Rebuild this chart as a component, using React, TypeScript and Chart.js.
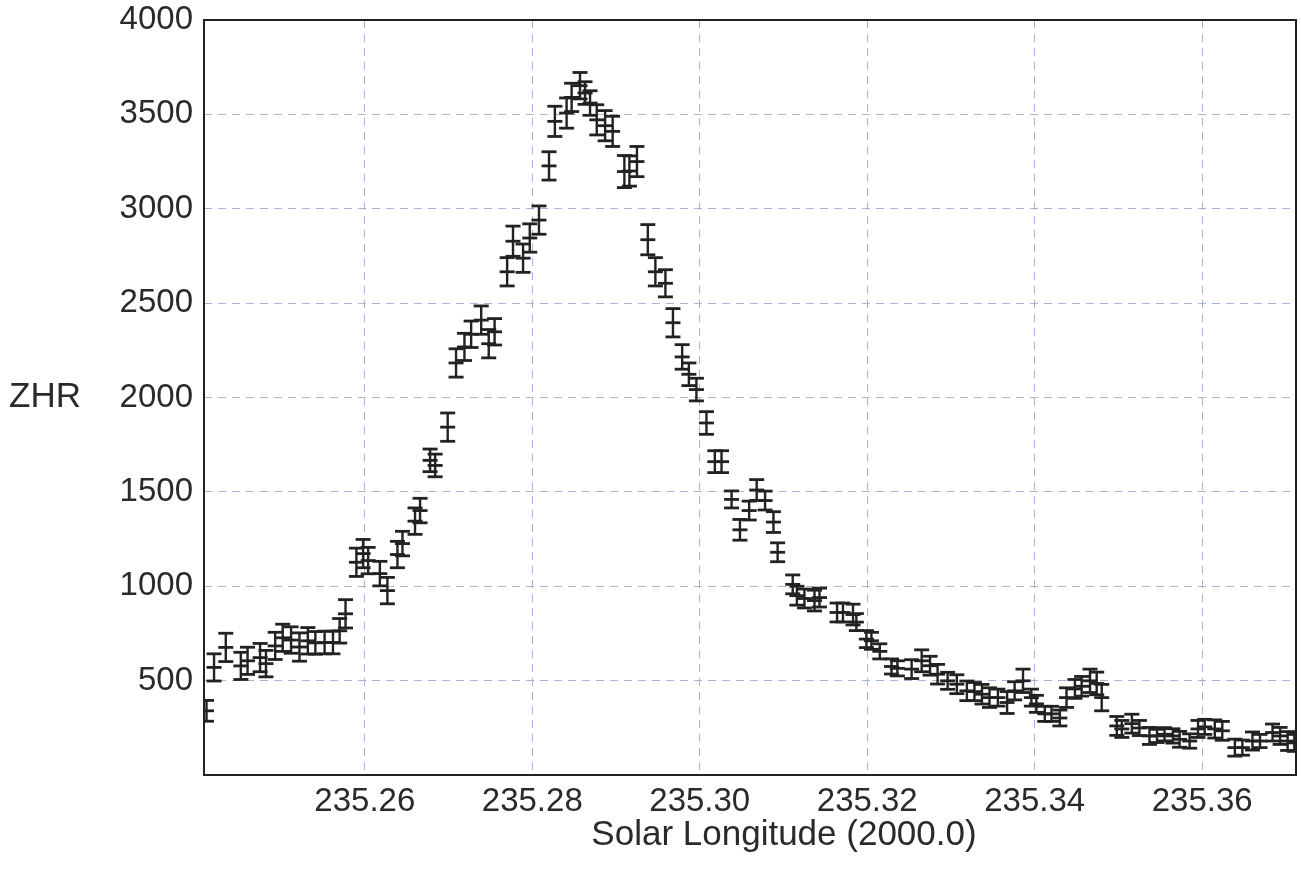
import React, { useEffect, useRef } from 'react';
import { Chart, registerables } from 'chart.js';

Chart.register(...registerables);

// Solar longitude (2000.0) of each ZHR bin
const SOLAR_LONGITUDE = [
  235.2411, 235.2420, 235.2434, 235.2452, 235.2460, 235.2475, 235.2482, 235.2493, 235.2502, 235.2512,
  235.2522, 235.2532, 235.2541, 235.2552, 235.2562, 235.2570, 235.2577, 235.2590, 235.2598, 235.2604,
  235.2618, 235.2627, 235.2639, 235.2645, 235.2660, 235.2666, 235.2678, 235.2684, 235.2699, 235.2709,
  235.2719, 235.2727, 235.2739, 235.2748, 235.2755, 235.2770, 235.2777, 235.2789, 235.2797, 235.2808,
  235.2820, 235.2827, 235.2841, 235.2847, 235.2857, 235.2863, 235.2869, 235.2877, 235.2887, 235.2896,
  235.2910, 235.2916, 235.2925, 235.2938, 235.2947, 235.2959, 235.2968, 235.2979, 235.2987, 235.2996,
  235.3008, 235.3018, 235.3026, 235.3038, 235.3048, 235.3059, 235.3068, 235.3078, 235.3088, 235.3093,
  235.3111, 235.3116, 235.3125, 235.3137, 235.3143, 235.3164, 235.3171, 235.3183, 235.3187, 235.3199,
  235.3205, 235.3215, 235.3229, 235.3236, 235.3253, 235.3265, 235.3275, 235.3284, 235.3296, 235.3307,
  235.3319, 235.3328, 235.3337, 235.3346, 235.3356, 235.3367, 235.3376, 235.3386, 235.3396, 235.3402,
  235.3412, 235.3420, 235.3430, 235.3438, 235.3448, 235.3456, 235.3466, 235.3474, 235.3480, 235.3498,
  235.3504, 235.3516, 235.3525, 235.3537, 235.3546, 235.3555, 235.3565, 235.3573, 235.3585, 235.3595,
  235.3603, 235.3615, 235.3624, 235.3639, 235.3648, 235.3660, 235.3669, 235.3684, 235.3693, 235.3702,
  235.3710,
];

// ZHR value of each bin
const ZHR = [
  340, 570, 676, 578, 605, 622, 590, 684, 727, 715,
  678, 711, 700, 702, 702, 764, 854, 1127, 1173, 1136,
  1067, 977, 1168, 1226, 1345, 1401, 1667, 1640, 1843, 2183,
  2268, 2335, 2410, 2285, 2348, 2666, 2828, 2738, 2845, 2940,
  3227, 3463, 3507, 3590, 3652, 3613, 3560, 3471, 3440, 3410,
  3197, 3200, 3250, 2836, 2666, 2605, 2396, 2215, 2123, 2042,
  1865, 1660, 1660, 1460, 1299, 1401, 1510, 1454, 1340, 1180,
  1010, 950, 935, 924, 940, 861, 861, 850, 810, 720,
  711, 655, 575, 565, 561, 605, 579, 534, 499, 481,
  446, 442, 428, 410, 410, 384, 446, 499, 410, 377,
  324, 324, 302, 410, 456, 470, 499, 485, 410, 260,
  244, 272, 249, 207, 207, 216, 207, 189, 180, 244,
  255, 244, 234, 145, 145, 180, 180, 225, 207, 180,
  170,
];

// Half-length of each error bar (ZHR units)
const ZHR_ERROR = [
  55, 72, 75, 72, 72, 75, 70, 72, 72, 70,
  75, 70, 60, 60, 60, 65, 75, 75, 75, 70,
  65, 70, 70, 65, 70, 65, 60, 60, 75, 75,
  72, 70, 75, 75, 70, 75, 80, 75, 75, 75,
  75, 80, 80, 75, 70, 60, 65, 80, 80, 80,
  85, 80, 80, 80, 75, 72, 75, 65, 60, 60,
  60, 58, 58, 45, 55, 50, 55, 50, 55, 50,
  50, 50, 50, 55, 50, 50, 50, 55, 45, 45,
  45, 40, 40, 40, 50, 58, 50, 52, 45, 50,
  52, 48, 52, 52, 45, 58, 48, 62, 45, 45,
  40, 40, 42, 52, 50, 52, 62, 60, 70, 50,
  45, 50, 40, 45, 35, 35, 38, 42, 38, 45,
  40, 48, 50, 45, 40, 48, 35, 45, 45, 50,
  45,
];

const X_TICKS = [235.26, 235.28, 235.30, 235.32, 235.34, 235.36];
const Y_TICKS = [0, 500, 1000, 1500, 2000, 2500, 3000, 3500, 4000];
const X_MIN = 235.2408;
const X_MAX = 235.3712;
const X_TITLE = 'Solar Longitude (2000.0)';
const Y_TITLE = 'ZHR';

const INK = '#222222';
const TEXT = '#2a2a2a';
const GRID = 'rgba(150,168,210,0.85)';
const FONT_FAMILY = '"Liberation Sans", Arial, Helvetica, sans-serif';

const annotationPlugin = {
  id: 'frameAndTitles',
  afterDatasetsDraw(chart: any) {
    const { ctx, chartArea: a, scales } = chart;
    ctx.save();
    ctx.strokeStyle = INK;
    ctx.lineWidth = 2;
    ctx.strokeRect(a.left, a.top, a.right - a.left, a.bottom - a.top);
    ctx.fillStyle = TEXT;
    ctx.font = `35px ${FONT_FAMILY}`;
    ctx.textAlign = 'left';
    ctx.textBaseline = 'middle';
    ctx.fillText(Y_TITLE, 9, scales.y.getPixelForValue(2000));
    ctx.textAlign = 'center';
    ctx.textBaseline = 'alphabetic';
    ctx.fillText(X_TITLE, 784, 845);
    ctx.restore();
  },
};

const zeroPadding = (scale: any) => {
  scale.paddingTop = 0;
  scale.paddingBottom = 0;
  scale.paddingLeft = 0;
  scale.paddingRight = 0;
};

export default function App() {
  const canvasRef = useRef<HTMLCanvasElement | null>(null);

  useEffect(() => {
    if (!canvasRef.current) return;
    const centers = SOLAR_LONGITUDE.map((x, i) => ({ x, y: ZHR[i] }));
    const uppers = SOLAR_LONGITUDE.map((x, i) => ({ x, y: ZHR[i] + ZHR_ERROR[i] }));
    const lowers = SOLAR_LONGITUDE.map((x, i) => ({ x, y: ZHR[i] - ZHR_ERROR[i] }));
    const stems: any[] = [];
    SOLAR_LONGITUDE.forEach((x, i) => {
      stems.push({ x, y: ZHR[i] + ZHR_ERROR[i] });
      stems.push({ x, y: ZHR[i] - ZHR_ERROR[i] });
      stems.push({ x, y: null });
    });

    const capStyle = {
      showLine: false,
      pointStyle: 'line',
      pointRadius: 7.5,
      pointHoverRadius: 7.5,
      borderColor: INK,
      backgroundColor: INK,
      pointBorderWidth: 2.8,
      borderWidth: 2.8,
    };

    const chart = new Chart(canvasRef.current, {
      type: 'scatter',
      data: {
        datasets: [
          {
            label: 'stems',
            data: stems,
            showLine: true,
            spanGaps: false,
            borderColor: INK,
            borderWidth: 2.4,
            pointRadius: 0,
            pointHoverRadius: 0,
          },
          { label: 'upper', data: uppers, ...capStyle },
          { label: 'lower', data: lowers, ...capStyle },
          { label: 'ZHR', data: centers, ...capStyle },
        ] as any,
      },
      options: {
        animation: false,
        responsive: true,
        maintainAspectRatio: false,
        events: [],
        layout: { autoPadding: false, padding: { left: 0, right: 5, top: 20, bottom: 0 } },
        plugins: {
          legend: { display: false },
          tooltip: { enabled: false },
        },
        scales: {
          x: {
            type: 'linear',
            min: X_MIN,
            max: X_MAX,
            afterBuildTicks: (scale: any) => {
              scale.ticks = X_TICKS.map((v) => ({ value: v }));
            },
            afterFit: (scale: any) => {
              scale.height = 104;
              zeroPadding(scale);
            },
            grid: { color: GRID, lineWidth: 1, drawTicks: false },
            border: { display: false, dash: [8, 6] },
            ticks: {
              padding: 7,
              color: TEXT,
              font: { family: FONT_FAMILY, size: 33 },
              maxRotation: 0,
              autoSkip: false,
              callback: (v: any) => Number(v).toFixed(2),
            },
          },
          y: {
            type: 'linear',
            min: 0,
            max: 4000,
            afterBuildTicks: (scale: any) => {
              scale.ticks = Y_TICKS.map((v) => ({ value: v }));
            },
            afterFit: (scale: any) => {
              scale.width = 204;
              zeroPadding(scale);
            },
            grid: { color: GRID, lineWidth: 1, drawTicks: false },
            border: { display: false, dash: [8, 6] },
            ticks: {
              padding: 11,
              color: TEXT,
              font: { family: FONT_FAMILY, size: 33 },
              autoSkip: false,
              callback: (v: any) => (Number(v) === 0 ? '' : String(v)),
            },
          },
        },
      } as any,
      plugins: [annotationPlugin],
    });
    return () => chart.destroy();
  }, []);

  return (
    <div style={{ position: 'absolute', left: 0, top: 0, width: 1301, height: 879, background: '#fff' }}>
      <canvas ref={canvasRef} />
    </div>
  );
}
